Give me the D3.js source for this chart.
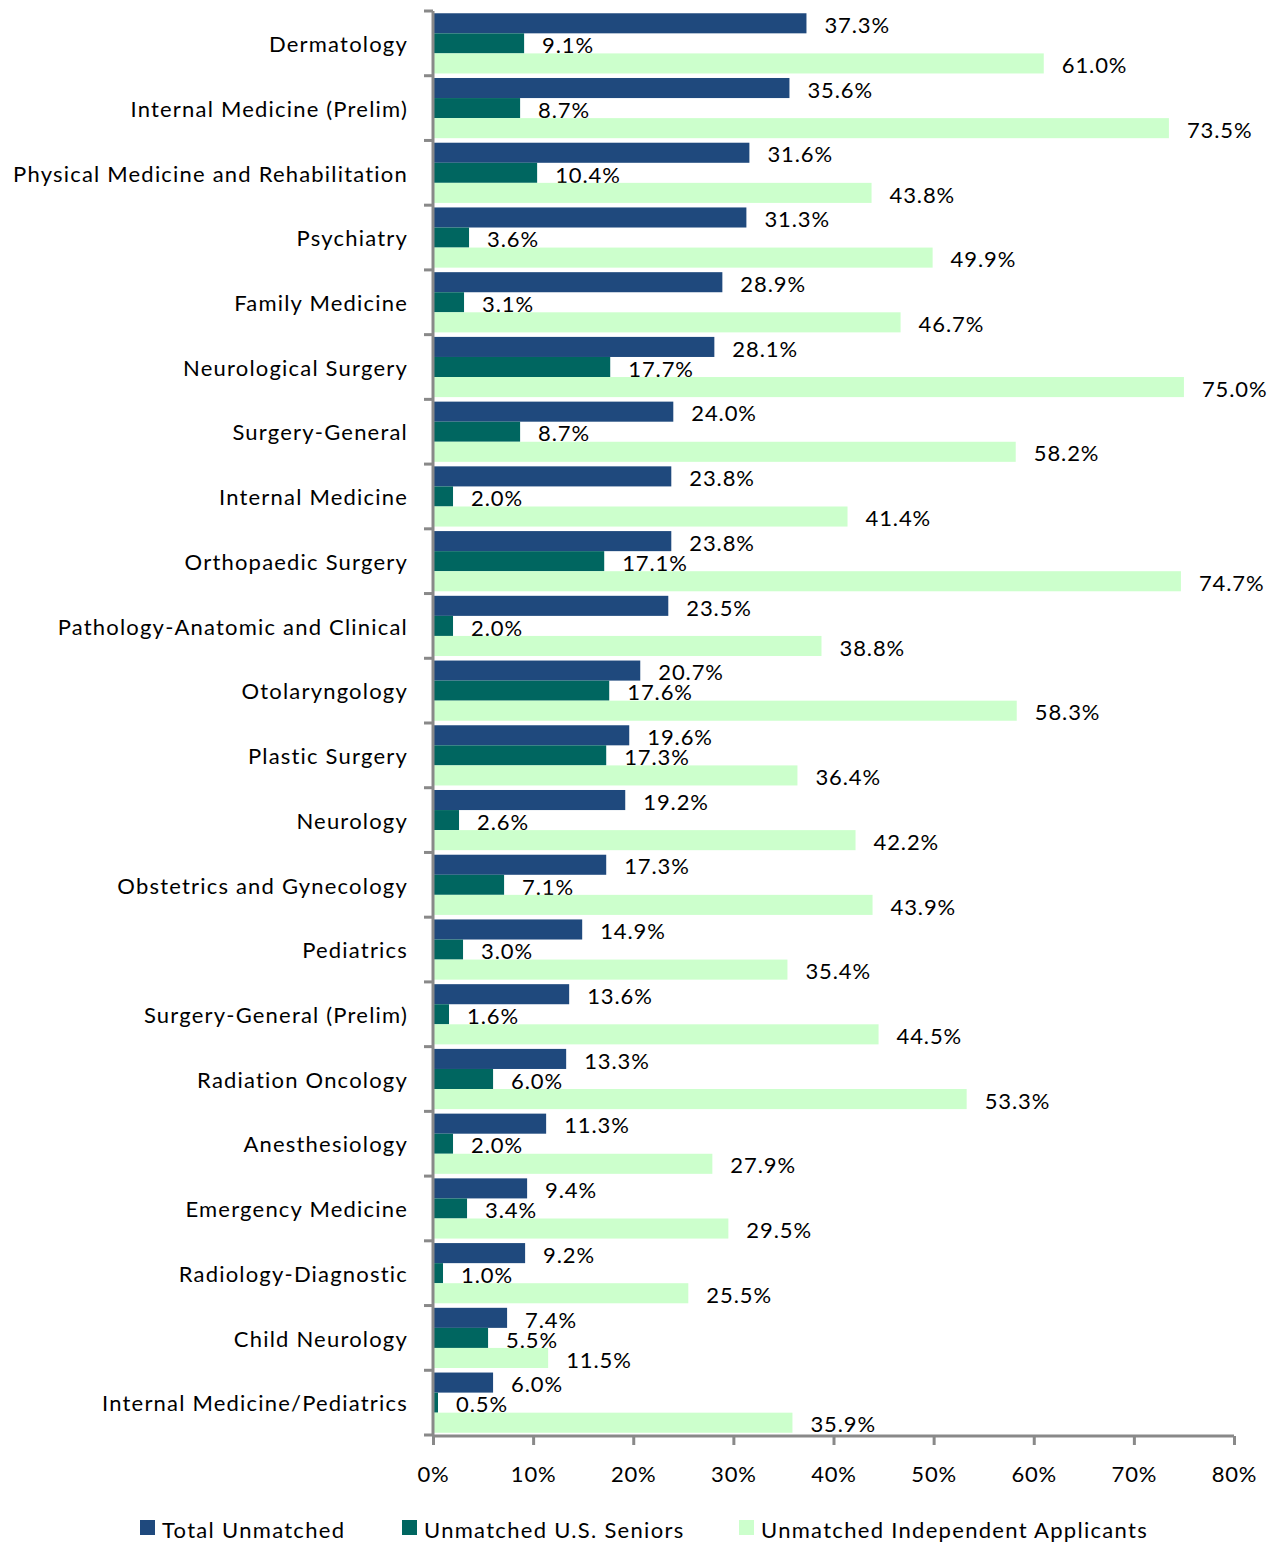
<!DOCTYPE html>
<html lang="en">
<head>
    <meta charset="UTF-8">
    <title>Unmatched by specialty</title>
    <script src="https://d3js.org/d3.v7.min.js"></script>
    <style>
        body { margin: 0; background: #fff; }
        text { font-family: Lato, "Open Sans", sans-serif; fill: #000; }
    </style>
</head>
<body>
    <div id="chart"></div>
    <script>
        const categories = [
            "Dermatology", "Internal Medicine (Prelim)", "Physical Medicine and Rehabilitation",
            "Psychiatry", "Family Medicine", "Neurological Surgery", "Surgery-General",
            "Internal Medicine", "Orthopaedic Surgery", "Pathology-Anatomic and Clinical",
            "Otolaryngology", "Plastic Surgery", "Neurology", "Obstetrics and Gynecology",
            "Pediatrics", "Surgery-General (Prelim)", "Radiation Oncology", "Anesthesiology",
            "Emergency Medicine", "Radiology-Diagnostic", "Child Neurology",
            "Internal Medicine/Pediatrics"
        ];
        const totalUnmatched = [37.3, 35.6, 31.6, 31.3, 28.9, 28.1, 24.0, 23.8, 23.8, 23.5, 20.7,
            19.6, 19.2, 17.3, 14.9, 13.6, 13.3, 11.3, 9.4, 9.2, 7.4, 6.0];
        const seniorsUnmatched = [9.1, 8.7, 10.4, 3.6, 3.1, 17.7, 8.7, 2.0, 17.1, 2.0, 17.6,
            17.3, 2.6, 7.1, 3.0, 1.6, 6.0, 2.0, 3.4, 1.0, 5.5, 0.5];
        const independentUnmatched = [61.0, 73.5, 43.8, 49.9, 46.7, 75.0, 58.2, 41.4, 74.7, 38.8, 58.3,
            36.4, 42.2, 43.9, 35.4, 44.5, 53.3, 27.9, 29.5, 25.5, 11.5, 35.9];
        const seriesNames = ["Total Unmatched", "Unmatched U.S. Seniors", "Unmatched Independent Applicants"];
        const xTicks = [0, 10, 20, 30, 40, 50, 60, 70, 80];

        const colors = ["#1f497d", "#006660", "#ccffcc"];
        const allSeries = [totalUnmatched, seniorsUnmatched, independentUnmatched];

        const W = 1270, H = 1542;
        const plotLeft = 433, plotRight = 1234, plotTop = 11, plotBottom = 1435;

        const svg = d3.select("#chart").append("svg")
            .attr("width", W).attr("height", H);

        const x = d3.scaleLinear().domain([0, 80]).range([plotLeft, plotRight]);
        const y = d3.scaleBand().domain(categories).range([plotTop, plotBottom]).paddingInner(0.07).paddingOuter(0.035);
        const ySub = d3.scaleBand().domain([0, 1, 2]).range([0, y.bandwidth()]);

        // bars
        allSeries.forEach(function (vals, si) {
            svg.append("g").selectAll("rect")
                .data(vals)
                .join("rect")
                .attr("x", x(0))
                .attr("y", (d, i) => y(categories[i]) + ySub(si))
                .attr("width", d => x(d) - x(0))
                .attr("height", ySub.bandwidth())
                .attr("fill", colors[si]);

            svg.append("g").selectAll("text")
                .data(vals)
                .join("text")
                .attr("x", d => x(d) + 18)
                .attr("y", (d, i) => y(categories[i]) + ySub(si) + ySub.bandwidth() / 2 + 2)
                .attr("dy", "0.35em")
                .style("font-size", "22px")
                .style("letter-spacing", "0.9px")
                .text(d => d.toFixed(1) + "%");
        });

        // y axis with category separator ticks
        const axisColor = "#898989";
        svg.append("line")
            .attr("x1", plotLeft).attr("x2", plotLeft)
            .attr("y1", plotTop).attr("y2", plotBottom + 1)
            .attr("stroke", axisColor).attr("stroke-width", 3);
        const sepStep = (plotBottom - plotTop) / categories.length;
        svg.append("g").selectAll("line")
            .data(d3.range(categories.length + 1))
            .join("line")
            .attr("x1", plotLeft - 9).attr("x2", plotLeft)
            .attr("y1", i => plotTop + i * sepStep).attr("y2", i => plotTop + i * sepStep)
            .attr("stroke", axisColor).attr("stroke-width", 3);

        svg.append("g").selectAll("text")
            .data(categories)
            .join("text")
            .attr("x", plotLeft - 25)
            .attr("y", d => y(d) + y.bandwidth() / 2 + 1)
            .attr("dy", "0.35em")
            .attr("text-anchor", "end")
            .style("font-size", "22px")
            .style("letter-spacing", "1.2px")
            .text(d => d);

        // x axis
        const xAxis = svg.append("g")
            .attr("transform", "translate(0," + (plotBottom + 1) + ")")
            .call(d3.axisBottom(x).tickValues(xTicks).tickSize(9).tickPadding(21)
                .tickFormat(d => d + "%"));
        xAxis.select(".domain").attr("stroke", axisColor).attr("stroke-width", 3)
            .attr("d", "M" + plotLeft + ",0H" + plotRight);
        xAxis.selectAll(".tick line").attr("stroke", axisColor).attr("stroke-width", 3);
        xAxis.selectAll(".tick text").style("font-size", "22px").style("letter-spacing", "0.8px")
            .attr("fill", "#000");

        // legend
        const legendX = [140, 402, 739];
        const legend = svg.append("g").selectAll("g")
            .data(seriesNames)
            .join("g")
            .attr("transform", (d, i) => "translate(" + legendX[i] + ",1520)");
        legend.append("rect")
            .attr("width", 15).attr("height", 15)
            .attr("fill", (d, i) => colors[i]);
        legend.append("text")
            .attr("x", 22).attr("y", 10)
            .attr("dy", "0.35em")
            .style("font-size", "22px")
            .style("letter-spacing", "1.3px")
            .text(d => d);
    </script>
</body>
</html>
